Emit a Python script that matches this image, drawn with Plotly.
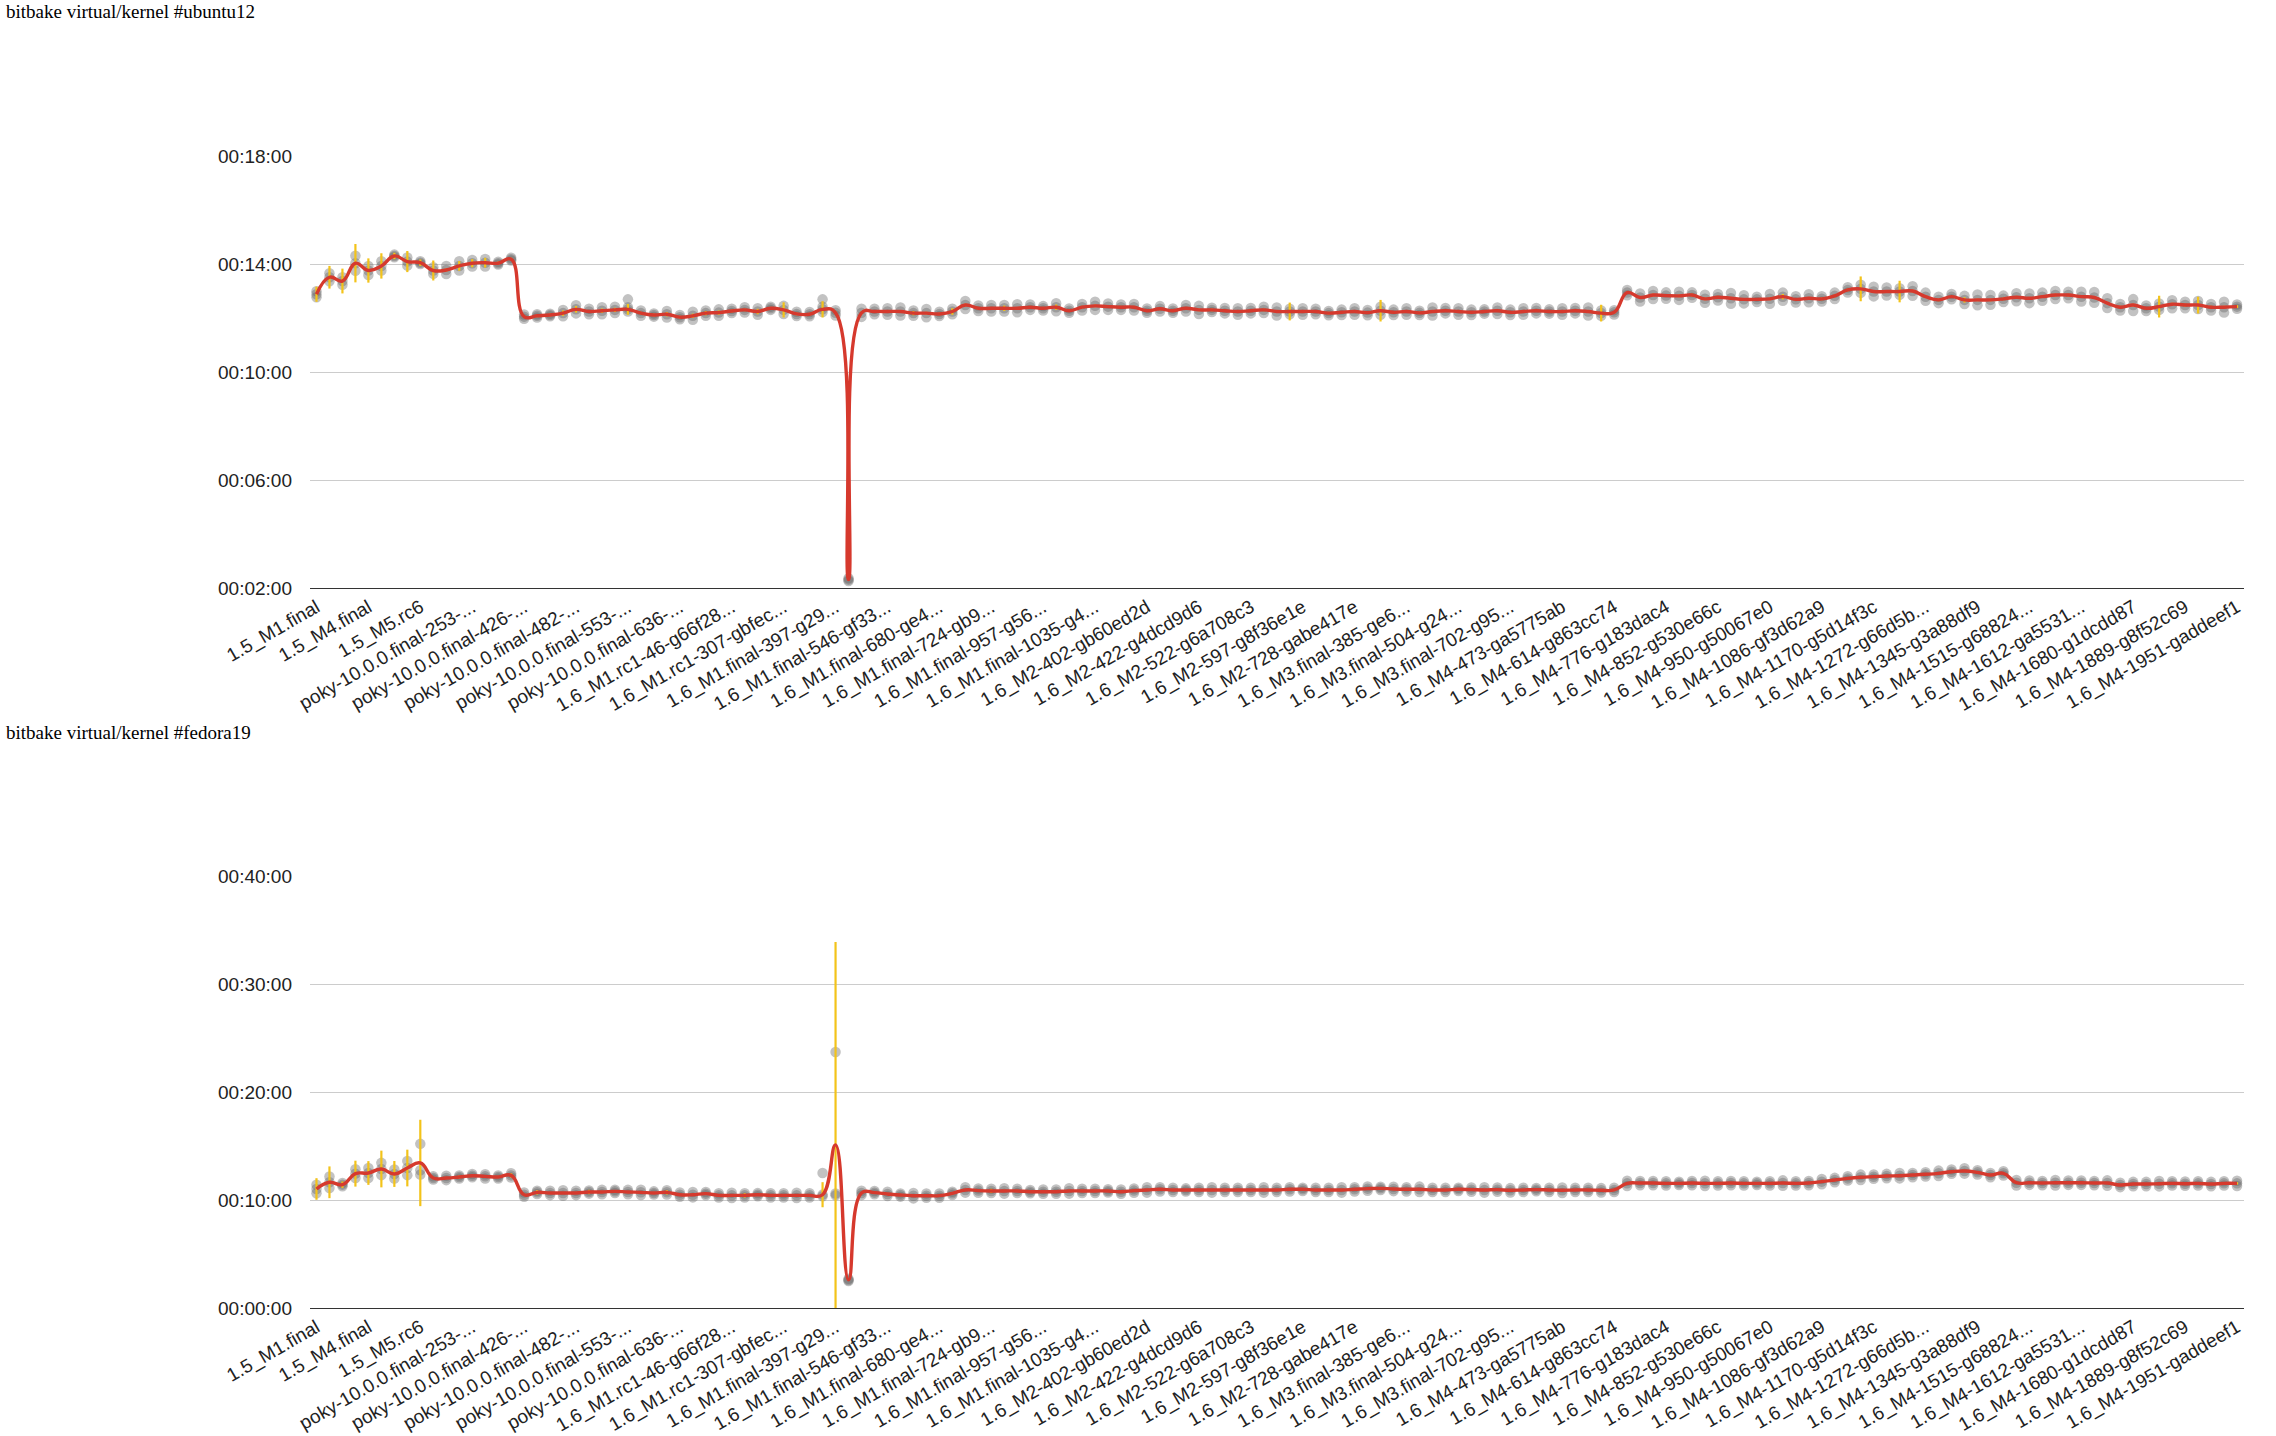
import plotly.graph_objects as go

# ---------------- data ----------------
tick_labels = [
    "1.5_M1.final", "1.5_M4.final", "1.5_M5.rc6",
    "poky-10.0.0.final-253-...", "poky-10.0.0.final-426-...", "poky-10.0.0.final-482-...",
    "poky-10.0.0.final-553-...", "poky-10.0.0.final-636-...", "1.6_M1.rc1-46-g66f28...",
    "1.6_M1.rc1-307-gbfec...", "1.6_M1.final-397-g29...", "1.6_M1.final-546-gf33...",
    "1.6_M1.final-680-ge4...", "1.6_M1.final-724-gb9...", "1.6_M1.final-957-g56...",
    "1.6_M1.final-1035-g4...", "1.6_M2-402-gb60ed2d", "1.6_M2-422-g4dcd9d6",
    "1.6_M2-522-g6a708c3", "1.6_M2-597-g8f36e1e", "1.6_M2-728-gabe417e",
    "1.6_M3.final-385-ge6...", "1.6_M3.final-504-g24...", "1.6_M3.final-702-g95...",
    "1.6_M4-473-ga5775ab", "1.6_M4-614-g863cc74", "1.6_M4-776-g183dac4",
    "1.6_M4-852-g530e66c", "1.6_M4-950-g50067e0", "1.6_M4-1086-gf3d62a9",
    "1.6_M4-1170-g5d14f3c", "1.6_M4-1272-g66d5b...", "1.6_M4-1345-g3a88df9",
    "1.6_M4-1515-g68824...", "1.6_M4-1612-ga5531...", "1.6_M4-1680-g1dcdd87",
    "1.6_M4-1889-g8f52c69", "1.6_M4-1951-gaddeef1",
]
LABEL_EVERY = 4  # one axis label every 4 builds

# build times in minutes, one value per build (149 builds)
ubuntu_mean = [
    12.89, 13.52, 13.38, 14.04, 13.77, 13.94, 14.31, 14.10, 14.06, 13.77,
    13.79, 13.94, 14.04, 14.06, 14.04, 14.19, 12.06, 12.09, 12.12, 12.19,
    12.33, 12.25, 12.28, 12.31, 12.33, 12.19, 12.12, 12.15, 12.04, 12.09,
    12.19, 12.21, 12.27, 12.31, 12.25, 12.37, 12.31, 12.16, 12.15, 12.33,
    12.20, 2.31, 12.20, 12.25, 12.25, 12.25, 12.19, 12.19, 12.16, 12.25,
    12.49, 12.37, 12.37, 12.37, 12.37, 12.41, 12.37, 12.41, 12.28, 12.41,
    12.46, 12.43, 12.41, 12.41, 12.28, 12.35, 12.28, 12.37, 12.31, 12.31,
    12.28, 12.25, 12.28, 12.31, 12.25, 12.25, 12.25, 12.25, 12.19, 12.22,
    12.25, 12.21, 12.28, 12.22, 12.25, 12.20, 12.25, 12.28, 12.25, 12.22,
    12.25, 12.28, 12.22, 12.25, 12.28, 12.25, 12.25, 12.28, 12.25, 12.19,
    12.22, 12.95, 12.77, 12.86, 12.84, 12.83, 12.86, 12.72, 12.78, 12.74,
    12.70, 12.70, 12.72, 12.80, 12.70, 12.74, 12.72, 12.83, 13.05, 13.09,
    12.99, 12.99, 12.99, 13.01, 12.80, 12.68, 12.80, 12.68, 12.68, 12.68,
    12.72, 12.78, 12.74, 12.80, 12.86, 12.86, 12.80, 12.77, 12.56, 12.41,
    12.49, 12.37, 12.43, 12.52, 12.49, 12.49, 12.41, 12.41, 12.43,
]
ubuntu_spread = [
    0.11, 0.15, 0.14, 0.28, 0.17, 0.17, 0.05, 0.15, 0.05, 0.12,
    0.15, 0.17, 0.12, 0.14, 0.05, 0.05, 0.08, 0.06, 0.05, 0.12,
    0.15, 0.10, 0.13, 0.12, 0.08, 0.10, 0.06, 0.12, 0.08, 0.15,
    0.10, 0.12, 0.08, 0.10, 0.12, 0.06, 0.15, 0.08, 0.08, 0.10,
    0.10, 0.05, 0.15, 0.10, 0.12, 0.15, 0.10, 0.15, 0.08, 0.10,
    0.15, 0.10, 0.12, 0.12, 0.15, 0.10, 0.08, 0.15, 0.08, 0.12,
    0.15, 0.12, 0.10, 0.12, 0.08, 0.10, 0.08, 0.12, 0.15, 0.08,
    0.10, 0.12, 0.10, 0.12, 0.15, 0.10, 0.12, 0.10, 0.08, 0.10,
    0.12, 0.10, 0.15, 0.10, 0.12, 0.08, 0.15, 0.10, 0.12, 0.10,
    0.08, 0.12, 0.10, 0.12, 0.10, 0.08, 0.12, 0.10, 0.15, 0.10,
    0.08, 0.10, 0.15, 0.15, 0.12, 0.15, 0.10, 0.15, 0.12, 0.20,
    0.15, 0.10, 0.18, 0.15, 0.12, 0.15, 0.10, 0.12, 0.10, 0.15,
    0.18, 0.15, 0.12, 0.18, 0.15, 0.12, 0.10, 0.15, 0.20, 0.18,
    0.12, 0.15, 0.18, 0.15, 0.15, 0.12, 0.18, 0.20, 0.18, 0.12,
    0.22, 0.10, 0.12, 0.15, 0.12, 0.15, 0.12, 0.20, 0.08,
]
ubuntu_err = [
    0.28, 0.42, 0.46, 0.71, 0.45, 0.47, 0.12, 0.39, 0.12, 0.37,
    0.06, 0.18, 0.15, 0.18, 0.06, 0.05, 0.05, 0.05, 0.05, 0.10,
    0.12, 0.05, 0.08, 0.08, 0.20, 0.05, 0.05, 0.08, 0.05, 0.08,
    0.08, 0.08, 0.05, 0.05, 0.10, 0.05, 0.28, 0.05, 0.05, 0.30,
    0.05, 0.03, 0.05, 0.05, 0.05, 0.05, 0.08, 0.05, 0.05, 0.12,
    0.05, 0.05, 0.05, 0.10, 0.05, 0.05, 0.05, 0.10, 0.05, 0.05,
    0.05, 0.05, 0.05, 0.05, 0.05, 0.05, 0.05, 0.05, 0.05, 0.05,
    0.05, 0.05, 0.05, 0.05, 0.05, 0.33, 0.05, 0.05, 0.05, 0.05,
    0.05, 0.05, 0.40, 0.05, 0.05, 0.05, 0.05, 0.05, 0.05, 0.05,
    0.05, 0.05, 0.05, 0.05, 0.05, 0.05, 0.05, 0.05, 0.05, 0.31,
    0.05, 0.05, 0.05, 0.05, 0.05, 0.05, 0.05, 0.05, 0.05, 0.05,
    0.05, 0.05, 0.05, 0.10, 0.05, 0.05, 0.05, 0.05, 0.05, 0.46,
    0.05, 0.05, 0.40, 0.05, 0.05, 0.05, 0.05, 0.10, 0.05, 0.05,
    0.05, 0.05, 0.05, 0.05, 0.05, 0.05, 0.05, 0.05, 0.05, 0.05,
    0.05, 0.05, 0.40, 0.05, 0.05, 0.31, 0.05, 0.05, 0.05,
]
ubuntu_extra_runs = {24: 12.70, 39: 12.70}
ubuntu_runs_override = {}

fedora_mean = [
    11.02, 11.64, 11.42, 12.44, 12.50, 12.87, 12.41, 12.96, 13.43, 12.04,
    12.04, 12.13, 12.25, 12.19, 12.13, 12.28, 10.49, 10.71, 10.65, 10.65,
    10.65, 10.74, 10.74, 10.80, 10.74, 10.71, 10.65, 10.71, 10.49, 10.49,
    10.59, 10.43, 10.43, 10.43, 10.49, 10.43, 10.43, 10.43, 10.43, 10.49,
    15.10, 2.60, 10.65, 10.68, 10.56, 10.46, 10.40, 10.40, 10.40, 10.62,
    10.93, 10.87, 10.84, 10.84, 10.84, 10.77, 10.77, 10.77, 10.84, 10.84,
    10.84, 10.84, 10.77, 10.87, 10.93, 10.99, 10.93, 10.93, 10.93, 10.93,
    10.93, 10.93, 10.93, 10.93, 10.93, 10.99, 10.99, 10.93, 10.93, 10.93,
    10.99, 11.05, 11.08, 11.02, 10.99, 10.99, 10.93, 10.93, 10.99, 10.96,
    10.93, 10.96, 10.90, 10.93, 10.96, 10.93, 10.90, 10.93, 10.93, 10.90,
    10.93, 11.54, 11.57, 11.57, 11.54, 11.54, 11.57, 11.54, 11.54, 11.57,
    11.54, 11.54, 11.54, 11.57, 11.54, 11.57, 11.70, 11.85, 12.00, 12.10,
    12.16, 12.22, 12.25, 12.31, 12.38, 12.47, 12.62, 12.69, 12.56, 12.31,
    12.47, 11.60, 11.60, 11.57, 11.60, 11.60, 11.60, 11.57, 11.57, 11.39,
    11.48, 11.48, 11.51, 11.54, 11.51, 11.54, 11.48, 11.54, 11.54,
]
fedora_spread = [
    0.39, 0.54, 0.15, 0.40, 0.46, 0.57, 0.42, 0.66, 0.00, 0.15,
    0.20, 0.15, 0.15, 0.20, 0.15, 0.20, 0.20, 0.15, 0.20, 0.25,
    0.20, 0.15, 0.20, 0.15, 0.20, 0.25, 0.15, 0.20, 0.20, 0.25,
    0.15, 0.20, 0.25, 0.20, 0.15, 0.20, 0.20, 0.25, 0.20, 0.00,
    0.00, 0.10, 0.20, 0.15, 0.20, 0.15, 0.25, 0.20, 0.20, 0.15,
    0.25, 0.20, 0.20, 0.25, 0.20, 0.15, 0.20, 0.20, 0.25, 0.20,
    0.20, 0.15, 0.20, 0.20, 0.25, 0.20, 0.20, 0.15, 0.20, 0.25,
    0.20, 0.20, 0.20, 0.25, 0.20, 0.20, 0.15, 0.20, 0.20, 0.25,
    0.20, 0.20, 0.15, 0.20, 0.20, 0.25, 0.20, 0.20, 0.15, 0.20,
    0.25, 0.20, 0.20, 0.20, 0.15, 0.20, 0.25, 0.20, 0.20, 0.20,
    0.20, 0.25, 0.20, 0.20, 0.20, 0.15, 0.20, 0.25, 0.20, 0.20,
    0.20, 0.15, 0.20, 0.25, 0.20, 0.20, 0.25, 0.20, 0.20, 0.25,
    0.20, 0.20, 0.25, 0.20, 0.20, 0.25, 0.20, 0.25, 0.20, 0.20,
    0.20, 0.25, 0.20, 0.20, 0.25, 0.20, 0.20, 0.20, 0.25, 0.20,
    0.20, 0.20, 0.25, 0.20, 0.20, 0.20, 0.20, 0.20, 0.25,
]
fedora_err = [
    1.00, 1.47, 0.30, 1.20, 1.10, 1.70, 1.20, 1.70, 4.00, 0.10,
    0.10, 0.15, 0.10, 0.10, 0.10, 0.20, 0.10, 0.20, 0.10, 0.10,
    0.10, 0.20, 0.10, 0.10, 0.10, 0.10, 0.10, 0.20, 0.10, 0.10,
    0.10, 0.10, 0.10, 0.20, 0.10, 0.10, 0.10, 0.10, 0.10, 1.16,
    18.80, 0.10, 0.10, 0.10, 0.10, 0.10, 0.10, 0.10, 0.10, 0.10,
    0.10, 0.10, 0.20, 0.10, 0.10, 0.10, 0.10, 0.10, 0.10, 0.10,
    0.10, 0.10, 0.10, 0.10, 0.10, 0.10, 0.10, 0.10, 0.10, 0.10,
    0.10, 0.10, 0.10, 0.10, 0.10, 0.10, 0.10, 0.10, 0.10, 0.10,
    0.10, 0.10, 0.10, 0.10, 0.10, 0.10, 0.10, 0.10, 0.10, 0.10,
    0.10, 0.10, 0.10, 0.10, 0.10, 0.10, 0.10, 0.10, 0.10, 0.10,
    0.10, 0.10, 0.10, 0.10, 0.10, 0.10, 0.10, 0.10, 0.10, 0.10,
    0.10, 0.10, 0.10, 0.10, 0.10, 0.10, 0.10, 0.10, 0.10, 0.10,
    0.10, 0.10, 0.10, 0.10, 0.10, 0.10, 0.10, 0.10, 0.10, 0.10,
    0.10, 0.10, 0.10, 0.10, 0.10, 0.10, 0.10, 0.10, 0.10, 0.10,
    0.10, 0.10, 0.10, 0.10, 0.10, 0.10, 0.10, 0.10, 0.10,
]
fedora_extra_runs = {}
fedora_runs_override = {8: [12.35, 12.75, 15.20], 39: [10.35, 10.50, 12.50], 40: [10.43, 10.60, 23.70]}

ubuntu_ticks = [2, 6, 10, 14, 18]
ubuntu_ticktext = ["00:02:00", "00:06:00", "00:10:00", "00:14:00", "00:18:00"]
fedora_ticks = [0, 10, 20, 30, 40]
fedora_ticktext = ["00:00:00", "00:10:00", "00:20:00", "00:30:00", "00:40:00"]

titles = ["bitbake virtual/kernel #ubuntu12", "bitbake virtual/kernel #fedora19"]

# ---------------- figure ----------------
W, H = 2276, 1436
SANS = "Liberation Sans, Arial, sans-serif"
SERIF = "Liberation Serif, Times New Roman, serif"
DOT = "rgba(95,95,95,0.38)"
YELLOW = "#f3c31a"
RED = "#d6392d"

n = len(ubuntu_mean)
xidx = list(range(n))
tickvals = xidx[::LABEL_EVERY]


def runs(means, spreads, override, extra):
    xs, ys = [], []
    for i, (m, s) in enumerate(zip(means, spreads)):
        vals = override.get(i, [m - s, m, m + s])
        for v in vals:
            xs.append(i)
            ys.append(v)
    for i, v in extra.items():
        xs.append(i)
        ys.append(v)
    return xs, ys


fig = go.Figure()

for k, (means, spreads, errs, ov, ex) in enumerate([
    (ubuntu_mean, ubuntu_spread, ubuntu_err, ubuntu_runs_override, ubuntu_extra_runs),
    (fedora_mean, fedora_spread, fedora_err, fedora_runs_override, fedora_extra_runs),
]):
    xa = "x" if k == 0 else "x2"
    ya = "y" if k == 0 else "y2"
    dx, dy = runs(means, spreads, ov, ex)
    fig.add_trace(go.Scatter(x=dx, y=dy, xaxis=xa, yaxis=ya, mode="markers",
                             marker=dict(size=10.5, color=DOT, line=dict(width=0)),
                             hoverinfo="skip"))
    fig.add_trace(go.Scatter(x=xidx, y=means, xaxis=xa, yaxis=ya, mode="markers",
                             marker=dict(size=1, color="rgba(0,0,0,0)"),
                             error_y=dict(type="data", array=errs, symmetric=True,
                                          color=YELLOW, thickness=2.2, width=0),
                             hoverinfo="skip"))
    fig.add_trace(go.Scatter(x=xidx, y=means, xaxis=xa, yaxis=ya, mode="lines",
                             line=dict(color=RED, width=3.4, shape="spline", smoothing=1.3)))

xdom = [310 / W, 2243.5 / W]
xcommon = dict(domain=xdom, range=[-0.5, n - 0.5], tickmode="array", tickvals=tickvals,
               ticktext=tick_labels, tickangle=-30, showgrid=False, zeroline=False,
               showline=True, linecolor="#333333", linewidth=1, ticks="",
               automargin=False,
               tickfont=dict(family=SANS, size=19, color="#222222"))
ycommon = dict(tickmode="array", showgrid=True, gridcolor="#cccccc", gridwidth=1,
               zeroline=False, showline=False, ticks="", ticklabelstandoff=17,
               automargin=False,
               tickfont=dict(family=SANS, size=19, color="#222222"))

fig.update_layout(
    width=W, height=H, margin=dict(l=0, r=0, t=0, b=0, autoexpand=False),
    paper_bgcolor="white", plot_bgcolor="white", showlegend=False,
    xaxis=dict(anchor="y", **xcommon),
    yaxis=dict(anchor="x", domain=[1 - 588 / H, 1 - 156.4 / H], range=[2, 18],
               tickvals=ubuntu_ticks, ticktext=ubuntu_ticktext, **ycommon),
    xaxis2=dict(anchor="y2", **xcommon),
    yaxis2=dict(anchor="x2", domain=[1 - 1308 / H, 1 - 876 / H], range=[0, 40],
                tickvals=fedora_ticks, ticktext=fedora_ticktext, **ycommon),
    annotations=[
        dict(text=titles[0], xref="paper", yref="paper", x=4 / W, y=1 - 12 / H,
             xanchor="left", yanchor="middle", showarrow=False,
             font=dict(family=SERIF, size=19, color="black")),
        dict(text=titles[1], xref="paper", yref="paper", x=4 / W, y=1 - 732 / H,
             xanchor="left", yanchor="middle", showarrow=False,
             font=dict(family=SERIF, size=19, color="black")),
    ],
)

fig.write_html("out.html", config={"displayModeBar": False},
               post_script="document.body.style.margin='0';document.body.style.overflow='hidden';")
